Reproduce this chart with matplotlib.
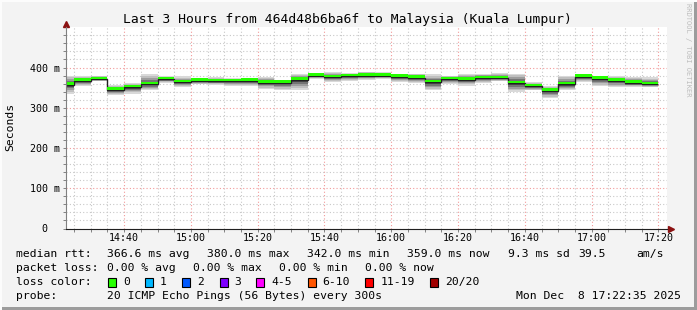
import matplotlib

matplotlib.use("Agg")
import matplotlib.pyplot as plt
import numpy as np
from matplotlib.patches import Rectangle


W, H = 697, 310

TITLE = "Last 3 Hours from 464d48b6ba6f to Malaysia (Kuala Lumpur)"

# one value per 5 minute interval, first interval starts 14:20
STEP_START = "14:20"
STEP_MINUTES = 5
VIEW_START = "14:22:35"
VIEW_END = "17:22:35"

median_ms = [357, 367, 371, 345, 351, 359, 371, 363, 367, 366, 366, 367,
             362, 362, 370, 380, 376, 378, 380, 380, 377, 375, 363, 371,
             370, 373, 373, 361, 353, 342, 358, 377, 372, 367, 362, 359]
high_ms = [380, 380, 380, 357, 361, 383, 378, 378, 374, 377, 374, 374,
           376, 370, 385, 386, 389, 386, 390, 389, 385, 385, 383, 380,
           385, 385, 386, 385, 364, 355, 380, 383, 380, 378, 376, 376]
low_ms = [335, 355, 366, 332, 335, 343, 362, 351, 358, 357, 355, 353,
          347, 343, 345, 372, 364, 366, 370, 372, 364, 361, 343, 358,
          355, 361, 366, 339, 343, 324, 343, 364, 353, 351, 351, 351]

x_tick_labels = ["14:40", "15:00", "15:20", "15:40", "16:00",
                 "16:20", "16:40", "17:00", "17:20"]
y_tick_values = [0, 100, 200, 300, 400]
y_tick_labels = ["0  ", "100 m", "200 m", "300 m", "400 m"]

rtt_stats = ["366.6 ms avg", "380.0 ms max", "342.0 ms min",
             "359.0 ms now", "9.3 ms sd", "39.5", "am/s"]
loss_stats = ["0.00 % avg", "0.00 % max", "0.00 % min", "0.00 % now"]
loss_labels = ["0", "1", "2", "3", "4-5", "6-10", "11-19", "20/20"]
loss_colors = ["#26ff00", "#00b8ff", "#0059ff", "#7e00ff",
               "#ff00ff", "#ff5500", "#ff0000", "#a10000"]
probe_text = "20 ICMP Echo Pings (56 Bytes) every 300s"
stamp_text = "Mon Dec  8 17:22:35 2025"

SMOKE_FRACS = [1.0, 0.8, 0.6, 0.4, 0.2]
SMOKE_SHADES = ["#d9d9d9", "#bfbfbf", "#9c9c9c", "#747474", "#484848"]


def to_minutes(text):
    parts = [float(p) for p in text.split(":")]
    while len(parts) < 3:
        parts.append(0.0)
    return parts[0] * 60 + parts[1] + parts[2] / 60


def px(x, y):
    return x / W, 1 - y / H


def main():
    plt.rcParams["font.family"] = ["DejaVu Sans Mono"]

    fig = plt.figure(figsize=(W / 100, H / 100), dpi=100, facecolor="#f3f3f3")
    left, right, top, bottom = 66, 667, 27.25, 228.5
    ax = fig.add_axes([left / W, 1 - bottom / H, (right - left) / W, (bottom - top) / H])
    ax.set_facecolor("white")

    med = np.array(median_ms, dtype=float)
    hi = np.array(high_ms, dtype=float)
    lo = np.array(low_ms, dtype=float)
    start = to_minutes(STEP_START)
    edges = start + STEP_MINUTES * np.arange(len(med) + 1)

    for frac, shade in zip(SMOKE_FRACS, SMOKE_SHADES):
        band_top = med + frac * (hi - med)
        band_bot = med - frac * (med - lo)
        ax.stairs(band_top, edges, baseline=band_bot, fill=True,
                  color=shade, linewidth=0)

    ax.stairs(med, edges, baseline=None, color="#202020", linewidth=1.0)
    ax.bar(edges[:-1], 6, bottom=med, width=STEP_MINUTES, align="edge",
           color=loss_colors[0], linewidth=0)

    x0, x1 = to_minutes(VIEW_START), to_minutes(VIEW_END)
    ax.set_xlim(x0, x1)
    ax.set_ylim(0, 500)

    ax.set_xticks([to_minutes(t) for t in x_tick_labels])
    ax.set_xticklabels(x_tick_labels, fontsize=7.2)
    ax.set_xticks(np.arange(np.ceil(x0 / 5) * 5, x1, 5), minor=True)
    ax.set_yticks(y_tick_values)
    ax.set_yticklabels(y_tick_labels, fontsize=7.2)
    ax.set_yticks(np.arange(0, 500, 20), minor=True)

    ax.set_axisbelow(True)
    ax.grid(which="minor", color="#c8c8c8", linestyle=(0, (1, 2)), linewidth=0.8)
    ax.grid(which="major", color="#f29a9a", linestyle=(0, (1, 2)), linewidth=0.8)

    ax.tick_params(which="both", length=2, width=0.6, color="#707070",
                   direction="out", pad=2)
    ax.tick_params(axis="x", which="both", pad=1)

    for side in ("top", "right"):
        ax.spines[side].set_visible(False)
    ax.spines["left"].set_color("#808080")
    ax.spines["bottom"].set_color("#202020")

    ax.plot([0], [1.0137], marker="^", color="#8b1111", markersize=4.5,
            transform=ax.transAxes, clip_on=False)
    ax.plot([1.0067], [0], marker=">", color="#8b1111", markersize=4.5,
            transform=ax.transAxes, clip_on=False)

    fig.text(*px(10, 127), "Seconds", rotation=90, ha="center", va="center",
             fontsize=8.2)
    fig.text(*px(347.5, 19), TITLE, ha="center", va="center", fontsize=9.4)
    fig.text(*px(688, 3), "RRDTOOL / TOBI OETIKER", rotation=270,
             ha="center", va="top", fontsize=5.1, color="#bdbdbd")

    legend_size = 8.2
    rows_y = [254, 268, 282, 296]

    fig.text(*px(16, rows_y[0]), "median rtt:", va="center", fontsize=legend_size)
    for x, label in zip([107, 207, 307, 407, 507.5, 578, 636], rtt_stats):
        fig.text(*px(x, rows_y[0]), label, va="center", fontsize=legend_size)

    fig.text(*px(16, rows_y[1]), "packet loss:", va="center", fontsize=legend_size)
    for x, label in zip([107, 193, 279, 365], loss_stats):
        fig.text(*px(x, rows_y[1]), label, va="center", fontsize=legend_size)

    fig.text(*px(16, rows_y[2]), "loss color:", va="center", fontsize=legend_size)
    box_x = [108, 145, 182, 219.5, 256.4, 307.6, 365.3, 430]
    for bx, label, color in zip(box_x, loss_labels, loss_colors):
        bl = px(bx, rows_y[2] + 4.5)
        fig.patches.append(Rectangle(bl, 8 / W, 9 / H, facecolor=color,
                                     edgecolor="black", linewidth=0.8,
                                     transform=fig.transFigure))
        fig.text(*px(bx + 15, rows_y[2]), label, va="center", fontsize=legend_size)

    fig.text(*px(16, rows_y[3]), "probe:", va="center", fontsize=legend_size)
    fig.text(*px(107, rows_y[3]), probe_text, va="center", fontsize=legend_size)
    fig.text(*px(681, rows_y[3]), stamp_text, ha="right", va="center",
             fontsize=legend_size)

    # rrdtool style frame
    fig.patches.append(Rectangle((694 / W, 0), 3 / W, 1, facecolor="#9c9c9c",
                                 linewidth=0, transform=fig.transFigure))
    fig.patches.append(Rectangle((0, 0), 1, 3 / H, facecolor="#9c9c9c",
                                 linewidth=0, transform=fig.transFigure))
    fig.patches.append(Rectangle((0, 0), 2 / W, 1, facecolor="#fcfcfc",
                                 linewidth=0, transform=fig.transFigure))
    fig.patches.append(Rectangle((0, 1 - 2 / H), 1, 2 / H, facecolor="#fcfcfc",
                                 linewidth=0, transform=fig.transFigure))

    fig.savefig("out.png", dpi=100, facecolor=fig.get_facecolor())
    plt.close(fig)


if __name__ == "__main__":
    main()
